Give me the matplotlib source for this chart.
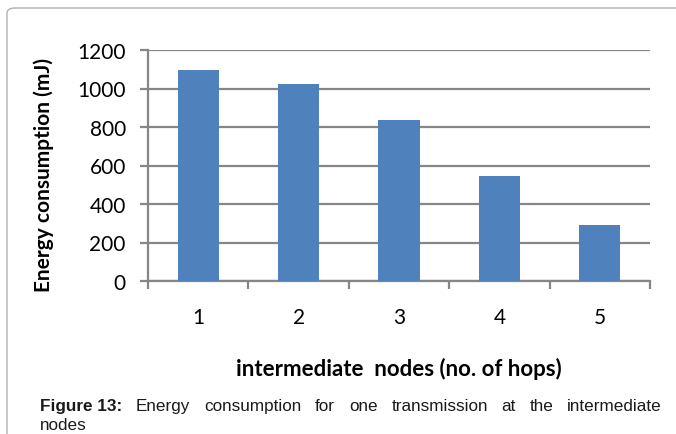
import numpy as np
import matplotlib.pyplot as plt
from matplotlib.patches import FancyBboxPatch

# data
hops = ['1', '2', '3', '4', '5']
energy = [1095, 1025, 835, 545, 293]
yticks = [0, 200, 400, 600, 800, 1000, 1200]

caption_bold = 'Figure 13:'
caption_line1 = 'Energy consumption for one transmission at the intermediate'
caption_line2 = 'nodes'

W, H = 676, 435
fig = plt.figure(figsize=(W / 100, H / 100), dpi=100)

# frame round the figure
frame = FancyBboxPatch((7 / W, -0.05), 1.2, 1 - 9 / H + 0.05,
                       boxstyle='round,pad=0,rounding_size=0.012',
                       transform=fig.transFigure, fill=False,
                       edgecolor='#b0b0b0', linewidth=1.0)
fig.patches.append(frame)

ax = fig.add_axes([148 / W, 1 - 282 / H, 502 / W, 231 / H])

x = np.arange(len(hops))
ax.bar(x, energy, width=0.41, color='#4F81BD', zorder=3)

ax.set_xlim(-0.5, len(hops) - 0.5)
ax.set_ylim(0, 1200)
ax.set_yticks(yticks)
ax.set_yticklabels([str(v) for v in yticks], fontsize=15, family='Lato')
ax.yaxis.grid(True, color='#868686', linewidth=1.6, zorder=0)

# category labels between boundary ticks
ax.set_xticks(np.arange(-0.5, len(hops), 1.0))
ax.set_xticklabels([])
ax.set_xticks(x, minor=True)
ax.set_xticklabels(hops, minor=True, fontsize=15, family='Lato')
ax.tick_params(axis='x', which='minor', length=0, pad=19)
ax.tick_params(axis='x', which='major', length=6, width=1.6, color='#868686')
ax.tick_params(axis='y', length=6, width=1.6, color='#868686', pad=10)

for s in ['top', 'right']:
    ax.spines[s].set_visible(False)
for s in ['left', 'bottom']:
    ax.spines[s].set_color('#868686')
    ax.spines[s].set_linewidth(1.6)

ax.set_ylabel('Energy consumption (mJ)', fontsize=15, fontweight='bold',
              family='Lato')
ax.yaxis.set_label_coords(-0.188, 0.465)
ax.set_xlabel('intermediate  nodes (no. of hops)', fontsize=16,
              fontweight='bold', family='Lato', labelpad=21)

# caption, first line justified between x0 and x1
x0, x1 = 40 / W, 662 / W
cap_fs = 12.3
renderer = fig.canvas.get_renderer()
tokens = [(caption_bold, 'bold')] + [(w, 'normal') for w in caption_line1.split()]
texts = [fig.text(0, 1 - 407 / H, t, fontsize=cap_fs, fontweight=fw,
                  family='Liberation Sans', va='center', color='#1a1a1a')
         for t, fw in tokens]
widths = [t.get_window_extent(renderer).width / W for t in texts]
gap = (x1 - x0 - sum(widths)) / (len(texts) - 1)
pos = x0
for t, w in zip(texts, widths):
    t.set_x(pos)
    pos += w + gap
fig.text(x0, 1 - 426 / H, caption_line2, fontsize=cap_fs,
         family='Liberation Sans', va='center', color='#1a1a1a')

fig.savefig('out.png', dpi=100)
